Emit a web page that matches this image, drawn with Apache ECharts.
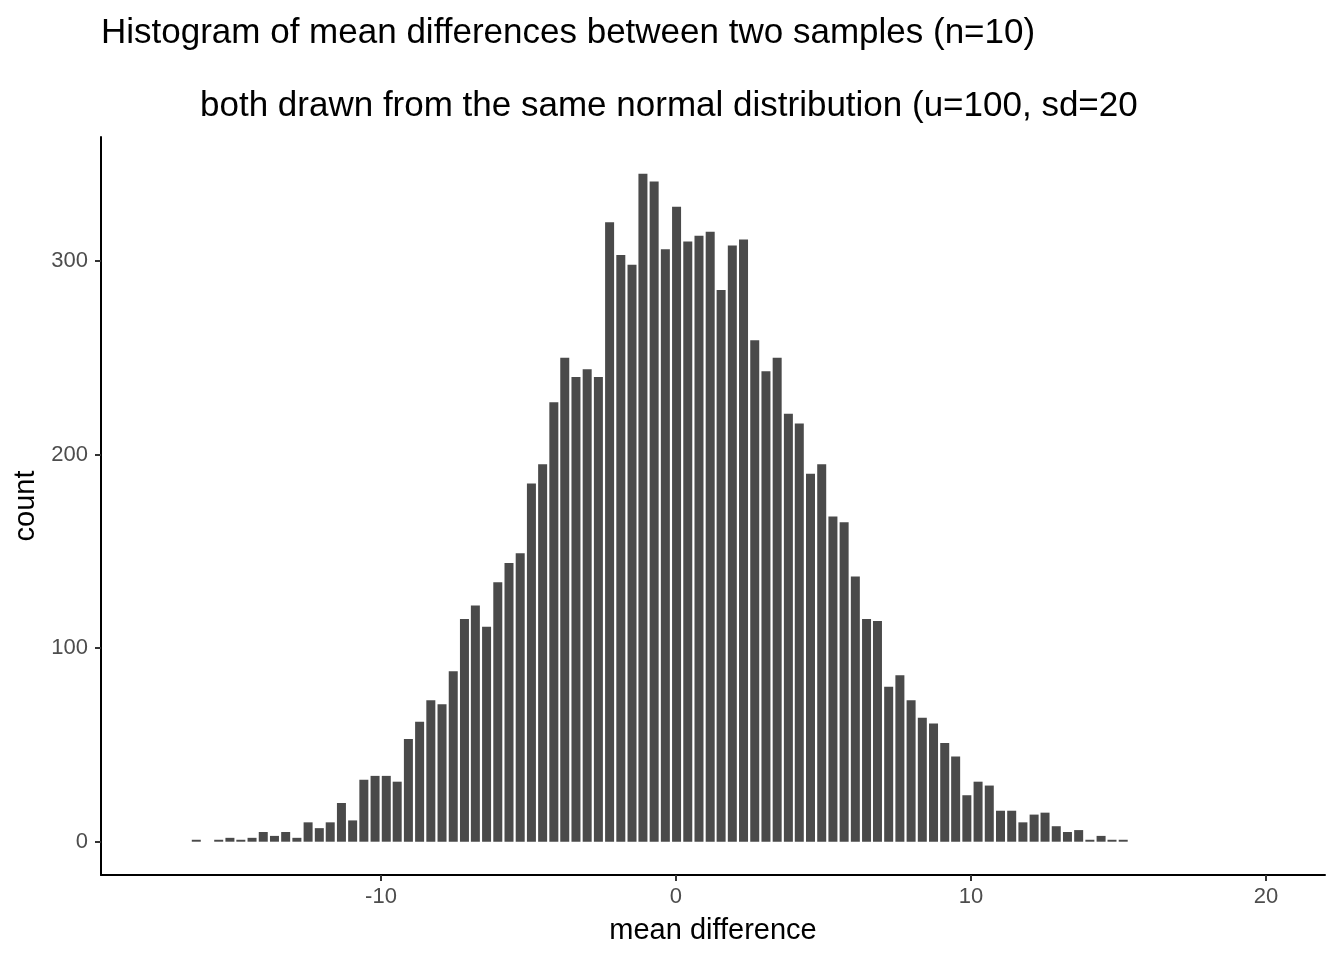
<!DOCTYPE html>
<html>
<head>
<meta charset="utf-8">
<script src="https://cdn.jsdelivr.net/npm/echarts@6/dist/echarts.min.js"></script>
<style>
html,body{margin:0;padding:0;background:#fff;}
#chart{width:1344px;height:960px;}
</style>
</head>
<body>
<div id="chart"></div>
<script>
// Histogram bin centres (mean difference)
const binCenters = [-16.26,-15.88,-15.50,-15.12,-14.75,-14.37,-13.99,-13.61,-13.23,-12.85,
  -12.47,-12.09,-11.72,-11.34,-10.96,-10.58,-10.20,-9.82,-9.45,-9.07,
  -8.69,-8.31,-7.93,-7.55,-7.17,-6.80,-6.42,-6.04,-5.66,-5.28,
  -4.90,-4.52,-4.14,-3.77,-3.39,-3.01,-2.63,-2.25,-1.87,-1.49,
  -1.12,-0.74,-0.36,0.02,0.40,0.78,1.16,1.53,1.91,2.29,
  2.67,3.05,3.43,3.81,4.18,4.56,4.94,5.32,5.70,6.08,
  6.46,6.83,7.21,7.59,7.97,8.35,8.73,9.11,9.48,9.86,
  10.24,10.62,11.00,11.38,11.76,12.14,12.51,12.89,13.27,13.65,
  14.03,14.41,14.78,15.16];
// Counts per bin
const counts = [1,0,1,2,1,2,5,3,5,2,
  10,7,10,20,11,32,34,34,31,53,
  62,73,71,88,115,122,111,134,144,149,
  185,195,227,250,240,244,240,320,303,298,
  345,341,306,328,310,313,315,285,308,311,
  259,243,250,221,216,190,195,168,165,137,
  115,114,80,86,73,64,61,51,44,24,
  31,29,16,16,10,14,15,8,5,6,
  1,3,1,1];
const xTicks = [-10, 0, 10, 20];
const yTicks = [0, 100, 200, 300];
const titleText = 'Histogram of mean differences between two samples (n=10)';
const subtitleText = 'both drawn from the same normal distribution (u=100, sd=20';
const xName = 'mean difference';
const yName = 'count';

const FONT = 'Liberation Sans, Arial, Helvetica, sans-serif';
const chart = echarts.init(document.getElementById('chart'), null, {renderer: 'canvas'});
const data = binCenters.map((x, i) => [x, counts[i]]);

chart.setOption({
  backgroundColor: '#ffffff',
  animation: false,
  graphic: [
    {type: 'text', left: 101, top: 16, style: {text: titleText, font: '35px ' + FONT, fill: '#000'}},
    {type: 'text', left: 200, top: 89, style: {text: subtitleText, font: '35px ' + FONT, fill: '#000'}}
  ],
  grid: {left: 101, right: 19, top: 137, bottom: 85, containLabel: false},
  xAxis: {
    type: 'value',
    min: -19.49,
    max: 22.0,
    name: xName,
    nameLocation: 'middle',
    nameGap: 41,
    nameTextStyle: {fontSize: 29, color: '#000', fontFamily: FONT},
    axisLine: {show: true, onZero: false, lineStyle: {color: '#000', width: 2}},
    axisTick: {show: true, length: 6, lineStyle: {color: '#333', width: 2}, customValues: xTicks},
    axisLabel: {show: true, fontSize: 22, color: '#4d4d4d', fontFamily: FONT, margin: 11, customValues: xTicks},
    splitLine: {show: false}
  },
  yAxis: {
    type: 'value',
    min: -17.2,
    max: 364,
    name: yName,
    nameLocation: 'middle',
    nameGap: 53,
    nameRotate: 90,
    nameTextStyle: {fontSize: 29, color: '#000', fontFamily: FONT},
    axisLine: {show: true, onZero: false, lineStyle: {color: '#000', width: 2}},
    axisTick: {show: true, length: 6, lineStyle: {color: '#333', width: 2}, customValues: yTicks},
    axisLabel: {show: true, fontSize: 22, color: '#4d4d4d', fontFamily: FONT, margin: 13, customValues: yTicks},
    splitLine: {show: false}
  },
  series: [{
    type: 'bar',
    data: data,
    barWidth: 9,
    itemStyle: {color: '#4a4a4a'},
    emphasis: {disabled: true}
  }]
});
</script>
</body>
</html>
